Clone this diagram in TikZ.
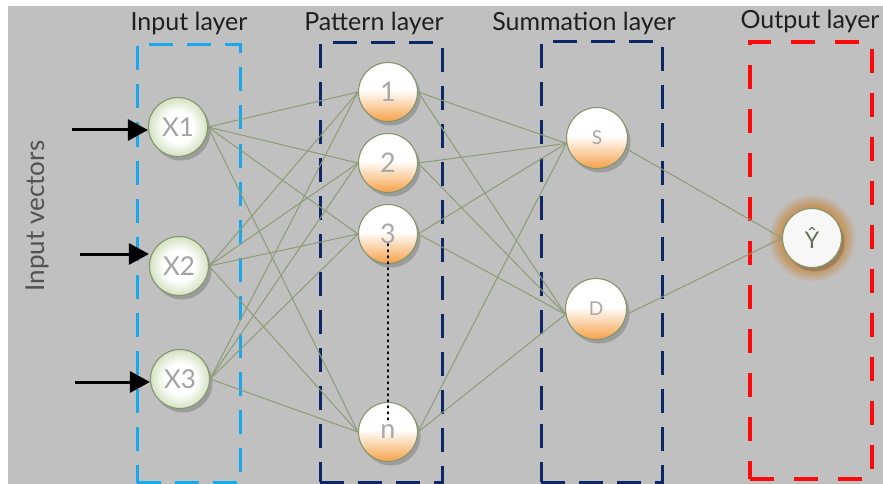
\documentclass[tikz,border=0pt]{standalone}
\usepackage{fontspec}
\setmainfont{Lato}
\usetikzlibrary{positioning,arrows.meta,shadows,shapes}

\definecolor{bgray}{RGB}{192,192,192}
\definecolor{wire}{RGB}{140,157,118}
\definecolor{inblue}{RGB}{24,168,236}
\definecolor{navy}{RGB}{12,38,104}
\definecolor{outred}{RGB}{250,10,10}
\definecolor{nodeorange}{RGB}{246,168,86}
\definecolor{nodegreen}{RGB}{212,226,194}
\definecolor{rimgreen}{RGB}{132,150,108}
\definecolor{glow}{RGB}{196,146,88}

% brown halo round the output node
\pgfdeclareradialshading{halo}{\pgfpoint{0bp}{0bp}}{color(0bp)=(glow); color(17bp)=(glow); color(20bp)=(glow!70!bgray); color(25bp)=(bgray); color(50bp)=(bgray)}
% fills of the neurons
\pgfdeclareradialshading{inball}{\pgfpoint{0bp}{0bp}}{color(0bp)=(white); color(13bp)=(white); color(25bp)=(nodegreen); color(50bp)=(nodegreen)}
\pgfdeclareverticalshading{orb}{100bp}{color(0bp)=(nodeorange); color(27bp)=(nodeorange); color(38bp)=(nodeorange!55!white); color(52bp)=(white); color(100bp)=(white)}

\begin{document}
\begin{tikzpicture}[x=1pt, y=-1pt, > = {Triangle[length=20pt, width=21pt]},
neuron/.style={ circle, draw=rimgreen, line width=1.1pt, minimum size=59pt, inner sep=0pt,
  drop shadow={shadow xshift=3pt, shadow yshift=-4pt, opacity=0.3, fill=black!70} },
inneuron/.style={ neuron, shade, shading=inball, text=black!36, font=\fontsize{26}{26}\selectfont },
hidneuron/.style={ neuron, shade, shading=orb, text=black!34, font=\fontsize{27}{27}\selectfont },
sumneuron/.style={ hidneuron, minimum size=61pt, font=\fontsize{19}{19}\selectfont },
layerbox/.style={ rectangle, draw, line width=3pt, dash pattern=on 24pt off 14pt, inner sep=0pt },
title/.style={ font=\fontsize{25}{25}\selectfont, text=black!88 },
wire/.style={ draw=wire, line width=1pt },
feed/.style={ ->, line width=3pt, black }]

\fill[bgray] (8,6) rectangle (883,484);
\useasboundingbox (0,0) rectangle (883,484);

% dashed frames of the four layers
\node (inbox) [layerbox, draw=inblue, minimum width=103pt, minimum height=438pt] at (188.5,263.5) {};
\node (patbox) [layerbox, draw=navy, minimum width=122pt, minimum height=439pt] at (381,262.5) {};
\node (sumbox) [layerbox, draw=navy, minimum width=121pt, minimum height=440pt] at (601.5,262) {};
\node (outbox) [layerbox, draw=outred, dash pattern=on 24pt off 20pt, line width=3.5pt, minimum width=122pt, minimum height=437pt] at (811,260.5) {};

\node (tin) [title] at (189,23) {Input layer};
\node (tpat) [title] at (374,23) {Pattern layer};
\node (tsum) [title] at (584,23) {Summation layer};
\node (tout) [title] at (810,21) {Output layer};

\node (vec) [title, rotate=90, text=black!68, font=\fontsize{26}{26}\selectfont] at (37,216) {Input vectors};

% input nodes
\node (x1) [inneuron] at (178,127) {X1};
\node (x2) [inneuron] at (179,266) {X2};
\node (x3) [inneuron] at (180,379) {X3};

% pattern nodes
\node (p1) [hidneuron] at (388,92) {1};
\node (p2) [hidneuron] at (388,163) {2};
\node (p3) [hidneuron] at (388,234) {3};
\node (pn) [hidneuron] at (388,432) {n};

% summation nodes
\node (S) [sumneuron] at (597,138) {S};
\node (D) [sumneuron] at (596,309) {D};

% output node with its halo
\shade[shading=halo] (812,238) circle (44);
\node (Y) [neuron, fill=white!97!black, text=rimgreen!75!black, font=\fontsize{23}{23}\selectfont] at (812,238) {Ŷ};

% input arrows
\coordinate (a1) at (72,130);
\coordinate (a2) at (80,254);
\coordinate (a3) at (75,382);
\draw [feed] (a1) -- (a1 -| x1.west);
\draw [feed] (a2) -- (a2 -| x2.west);
\draw [feed] (a3) -- (a3 -| x3.west);

% connections
\foreach \i in {1,2,3}
{
\foreach \j in {1,2,3,n}
\draw [wire] (x\i.east) -- (p\j.west);
}
\foreach \j in {1,2,3,n}
{
\draw [wire] (p\j.east) -- (S.190);
\draw [wire] (p\j.east) -- (D.190);
}
\draw [wire] (S.-20) -- (Y.west);
\draw [wire] (D.-10) -- (Y.west);

\draw [line width=1.6pt, dash pattern=on 1.6pt off 4.4pt, line cap=round] ([yshift=-10pt]p3.center) -- ([yshift=12pt]pn.center);

\end{tikzpicture}
\end{document}
